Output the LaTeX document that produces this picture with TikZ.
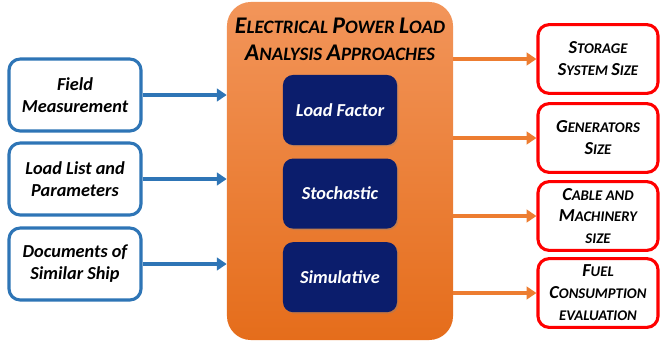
\documentclass[tikz,border=0pt]{standalone}
\usepackage{fontspec}
\setmainfont{Carlito}
\usepackage{xcolor}
\usetikzlibrary{arrows.meta,positioning,shadows}

\definecolor{inblue}{HTML}{2E75B6}
\definecolor{outred}{HTML}{FF0000}
\definecolor{arrorange}{HTML}{ED7D31}
\definecolor{orangetop}{HTML}{F2955A}
\definecolor{orangebot}{HTML}{E56D1B}
\definecolor{navy}{HTML}{0B1D6C}

% fake small caps: big initial, small rest
\newcommand{\titlecap}[2]{{\fontsize{17}{19}\selectfont #1}{\fontsize{13.5}{19}\selectfont #2}}
\newcommand{\outcap}[2]{{\fontsize{13}{15.6}\selectfont #1}{\fontsize{10.5}{15.6}\selectfont #2}}

\begin{document}
\begin{tikzpicture}[
      x=0.025cm, y=-0.025cm,
      inbox/.style={draw=inblue, line width=2.2pt, rounded corners=0.28cm, fill=white,
        minimum width=3.3cm, minimum height=1.8cm, align=center,
        font=\fontsize{13}{15.6}\selectfont\bfseries\itshape},
      outbox/.style={draw=outred, line width=2.2pt, rounded corners=0.28cm, fill=white,
        minimum width=3.0cm, minimum height=1.72cm, align=center,
        font=\fontsize{10.5}{15.6}\selectfont\bfseries\itshape},
      method/.style={fill=navy, rounded corners=0.25cm, text=white,
        minimum width=2.85cm, minimum height=1.75cm, align=center,
        drop shadow={shadow xshift=1pt, shadow yshift=-1pt, opacity=0.35},
        font=\fontsize{13}{15.6}\selectfont\bfseries\itshape},
      approach/.style={rounded corners=0.6cm, top color=orangetop, bottom color=orangebot,
        minimum width=5.65cm, minimum height=8.45cm},
      inarrow/.style={draw=inblue, line width=2.5pt, -{Triangle[length=7pt,width=9pt]}},
      outarrow/.style={draw=arrorange, line width=2.5pt, -{Triangle[length=7pt,width=9pt]}}
    ]
    \useasboundingbox (0,0) rectangle (660,343);

    % central block
    \node[approach] (main) at (340,171) {};
    \node[align=center, font=\fontsize{13.5}{19}\selectfont\bfseries\itshape, inner sep=0pt] (ttl) at (340,39)
      {\titlecap{E}{LECTRICAL} \titlecap{P}{OWER} \titlecap{L}{OAD}\\
       \titlecap{A}{NALYSIS} \titlecap{A}{PPROACHES}};
    \node[method] (lf) at (340,110) {Load Factor};
    \node[method, below=0.325cm of lf] (sto) {Stochastic};
    \node[method, below=0.325cm of sto] (sim) {Simulative};

    % inputs
    \node[inbox] (fm) at (75,95) {Field\\Measurement};
    \node[inbox] (ll) at (75,179) {Load List and\\Parameters};
    \node[inbox] (dc) at (75,264) {Documents of\\Similar Ship};

    % outputs
    \node[outbox] (ss) at (598,59) {\outcap{S}{TORAGE}\\\outcap{S}{YSTEM} \outcap{S}{IZE}};
    \node[outbox] (gs) at (598,138) {\outcap{G}{ENERATORS}\\\outcap{S}{IZE}};
    \node[outbox] (cm) at (598,216) {\outcap{C}{ABLE AND}\\\outcap{M}{ACHINERY}\\\outcap{}{SIZE}};
    \node[outbox] (fc) at (598,293) {\outcap{F}{UEL}\\\outcap{C}{ONSUMPTION}\\\outcap{}{EVALUATION}};

    \draw[inarrow] (fm.east) -- (fm.east -| main.west);
    \draw[inarrow] (ll.east) -- (ll.east -| main.west);
    \draw[inarrow] (dc.east) -- (dc.east -| main.west);

    \draw[outarrow] (ss.west -| main.east) -- (ss.west);
    \draw[outarrow] (gs.west -| main.east) -- (gs.west);
    \draw[outarrow] (cm.west -| main.east) -- (cm.west);
    \draw[outarrow] (fc.west -| main.east) -- (fc.west);
  \end{tikzpicture}
\end{document}
